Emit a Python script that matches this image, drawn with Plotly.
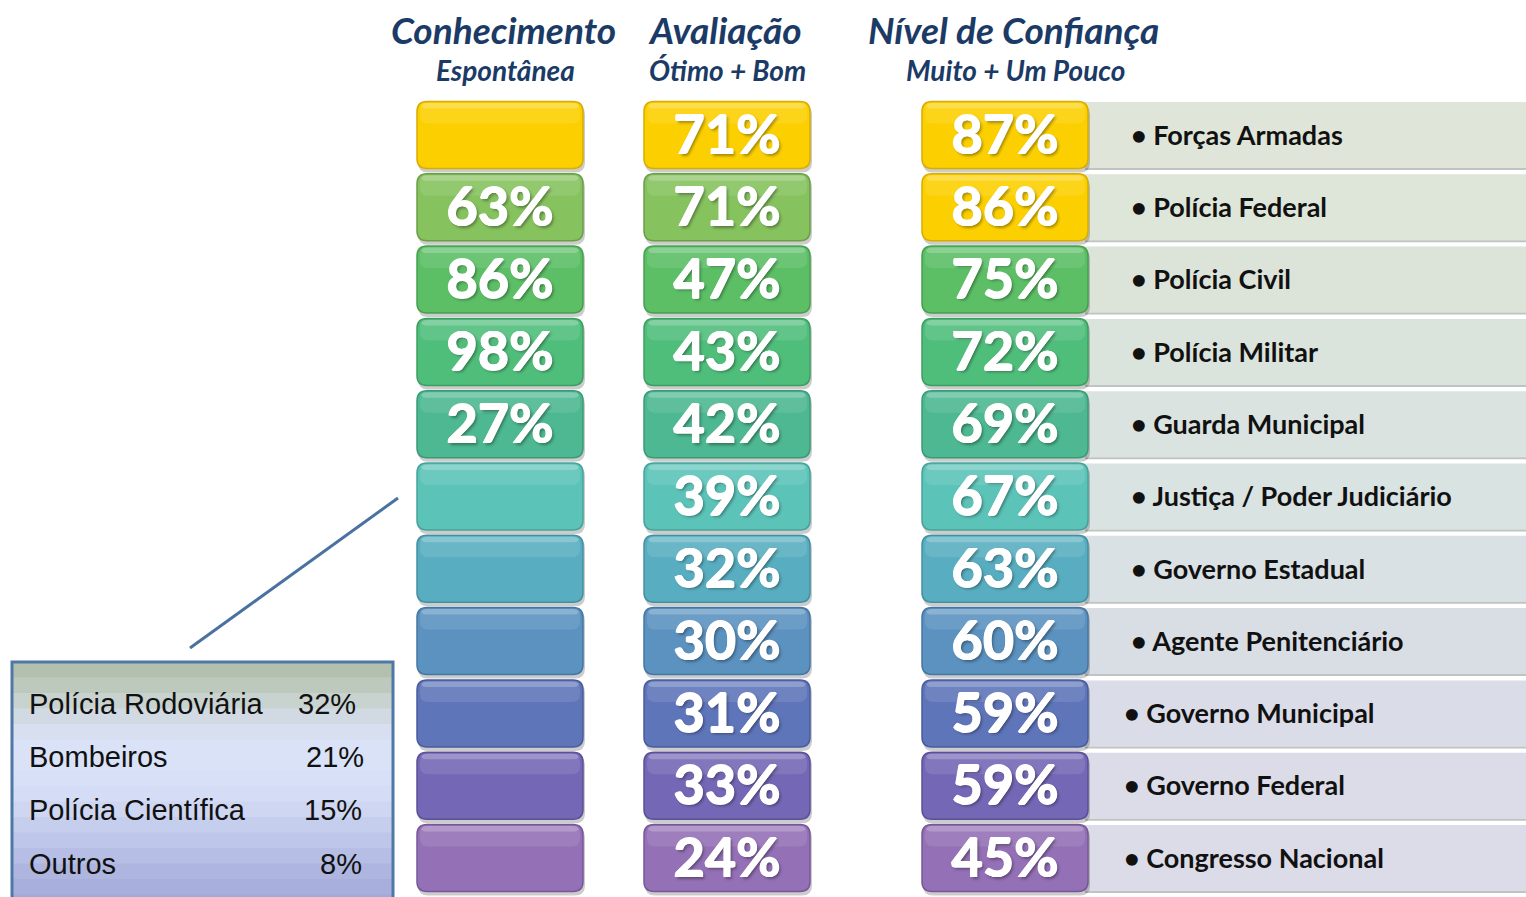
import plotly.graph_objects as go

# ---------------- data ----------------
orgs = ["Forças Armadas", "Polícia Federal", "Polícia Civil", "Polícia Militar",
        "Guarda Municipal", "Justiça / Poder Judiciário", "Governo Estadual",
        "Agente Penitenciário", "Governo Municipal", "Governo Federal", "Congresso Nacional"]
conhecimento = [None, 63, 86, 98, 27, None, None, None, None, None, None]
avaliacao = [71, 71, 47, 43, 42, 39, 32, 30, 31, 33, 24]
confianca = [87, 86, 75, 72, 69, 67, 63, 60, 59, 59, 45]

inset_labels = ["Polícia Rodoviária", "Bombeiros", "Polícia Científica", "Outros"]
inset_values = [32, 21, 15, 8]

col_titles = ["Conhecimento", "Avaliação", "Nível de Confiança"]
col_subtitles = ["Espontânea", "Ótimo + Bom", "Muito + Um Pouco"]

# ---------------- style ----------------
W, H = 1526, 897
ROW0, ROWSTEP = 135.0, 72.3          # pixel centre of first row, row pitch


def py(p):  # pixel y -> row units
    return (p - ROW0) / ROWSTEP


row_colors = ["#FCD000", "#86C25E", "#5CBF66", "#50BE7B", "#4DB892", "#5CC3B8",
              "#58AEC0", "#5C92C0", "#5F75BA", "#7467B5", "#9470B6"]
row_dark = ["#D8AC00", "#6A9E48", "#46A050", "#3C9E62", "#3A9A78", "#45A49A",
            "#4490A2", "#4676A2", "#4A5C9C", "#5C5098", "#765898"]
conf_colors = ["#FCD000", "#FCD000"] + row_colors[2:]
conf_dark = ["#D8AC00", "#D8AC00"] + row_dark[2:]
band_colors = ["#DFE5D9", "#DEE5D9", "#DCE4DA", "#DBE4DC", "#DAE3DF", "#D9E3E2",
               "#D9E1E4", "#D9DEE5", "#DADDE7", "#DBDCE8", "#DCDCE8"]
label_x = [1131] * 8 + [1124] * 3
inset_val_x = [358, 366, 364, 364]

col_x = [500, 727, 1005]
HALF_W = 83
HALF_H = 33.5 / ROWSTEP
RX, RY = 10, 10 / ROWSTEP


def rrect(x0, x1, y0, y1, rx=RX, ry=RY):
    return (f"M {x0+rx},{y0} L {x1-rx},{y0} Q {x1},{y0} {x1},{y0+ry} "
            f"L {x1},{y1-ry} Q {x1},{y1} {x1-rx},{y1} L {x0+rx},{y1} "
            f"Q {x0},{y1} {x0},{y1-ry} L {x0},{y0+ry} Q {x0},{y0} {x0+rx},{y0} Z")


shapes = []


def add_box(cx, row, fill, dark):
    x0, x1 = cx - HALF_W, cx + HALF_W
    y0, y1 = row - HALF_H, row + HALF_H
    shapes.append(dict(type="path", xref="x", yref="y",
                       path=rrect(x0 + 1, x1 + 2, y0 + 3 / ROWSTEP, y1 + 4 / ROWSTEP),
                       fillcolor="rgba(0,0,0,0.2)", line=dict(width=0), layer="below"))
    shapes.append(dict(type="path", xref="x", yref="y", path=rrect(x0, x1, y0, y1),
                       fillcolor=fill, line=dict(color=dark, width=1.5), layer="below"))
    shapes.append(dict(type="path", xref="x", yref="y",
                       path=rrect(x0 + 3, x1 - 3, y0 + 1.5 / ROWSTEP, y0 + 22 / ROWSTEP,
                                  rx=8, ry=8 / ROWSTEP),
                       fillcolor="rgba(255,255,255,0.10)", line=dict(width=0), layer="below"))
    shapes.append(dict(type="path", xref="x", yref="y",
                       path=rrect(x0 + 4, x1 - 4, y0 + 1.5 / ROWSTEP, y0 + 7 / ROWSTEP,
                                  rx=5, ry=5 / ROWSTEP),
                       fillcolor="rgba(255,255,255,0.22)", line=dict(width=0), layer="below"))


for i, org in enumerate(orgs):
    shapes.append(dict(type="rect", xref="x", yref="y", x0=1085, x1=W + 20,
                       y0=i - 33 / ROWSTEP, y1=i + 33 / ROWSTEP,
                       fillcolor=band_colors[i], line=dict(width=0), layer="below"))
    shapes.append(dict(type="line", xref="x", yref="y", x0=1085, x1=W + 20,
                       y0=i + 34 / ROWSTEP, y1=i + 34 / ROWSTEP,
                       line=dict(color="#BFC3C2", width=2), layer="below"))

for i in range(len(orgs)):
    add_box(col_x[0], i, row_colors[i], row_dark[i])
    add_box(col_x[1], i, row_colors[i], row_dark[i])
    add_box(col_x[2], i, conf_colors[i], conf_dark[i])

# inset box with gradient
inset_top, inset_bot = 662, 910
grad = ["#B3C0AE", "#BDC9BC", "#C8D2CE", "#D1DAE2", "#D7DFF0", "#DAE2F8", "#DAE2F8",
        "#D8E0F8", "#D4DCF6", "#CED6F2", "#C6CEEE", "#BEC6EA", "#B6BEE5", "#AEB6E0",
        "#A8AFDC", "#A2A9D8"]
n = len(grad)
for k, c in enumerate(grad):
    a = inset_top + (inset_bot - inset_top) * k / n
    b = inset_top + (inset_bot - inset_top) * (k + 1) / n
    shapes.append(dict(type="rect", xref="x", yref="y", x0=12, x1=393, y0=py(a), y1=py(b) + 0.01,
                       fillcolor=c, line=dict(width=0), layer="below"))
shapes.append(dict(type="rect", xref="x", yref="y", x0=12, x1=393, y0=py(inset_top), y1=py(inset_bot),
                   fillcolor="rgba(0,0,0,0)", line=dict(color="#4E79A7", width=3), layer="above"))
shapes.append(dict(type="line", xref="x", yref="y", x0=190, x1=398, y0=py(648), y1=py(498),
                   line=dict(color="#4A72A0", width=3)))

fig = go.Figure()

pct_shadow = ("0.7px 0 0 #fff, -0.7px 0 0 #fff, 0 0.7px 0 #fff, 0 -0.7px 0 #fff, "
              "2px 2px 3px rgba(0,0,0,0.35)")
for col, vals in zip(col_x, [conhecimento, avaliacao, confianca]):
    xs, ys, ts = [], [], []
    for i, v in enumerate(vals):
        if v is None:
            continue
        xs.append(col)
        ys.append(i + 5 / ROWSTEP)
        ts.append(f"{v}%")
    fig.add_trace(go.Scatter(x=xs, y=ys, text=ts, mode="text", textposition="middle center",
                             textfont=dict(family="Lato", size=54, color="white", weight="bold",
                                           shadow=pct_shadow),
                             hoverinfo="skip", showlegend=False))

fig.add_trace(go.Scatter(x=label_x, y=[i + 3 / ROWSTEP for i in range(len(orgs))],
                         text=["• " + o for o in orgs], mode="text", textposition="middle right",
                         textfont=dict(family="Lato", size=27, color="#111111", weight="bold"),
                         hoverinfo="skip", showlegend=False))

annotations = []
for cx, t, s in zip([503, 725, 1013], col_titles, col_subtitles):
    annotations.append(dict(x=cx, y=py(29), text=t, showarrow=False, xref="x", yref="y",
                            font=dict(family="Lato", size=37, color="#1B3A66",
                                      style="italic", weight="bold")))
    annotations.append(dict(x=cx + 2, y=py(70), text=s, showarrow=False, xref="x", yref="y",
                            font=dict(family="Lato", size=28, color="#1B3A66",
                                      style="italic", weight="bold")))

inset_y = [704, 757, 810, 864]
for lab, val, yy, vx in zip(inset_labels, inset_values, inset_y, inset_val_x):
    annotations.append(dict(x=27, y=py(yy), text=lab, showarrow=False, xref="x", yref="y",
                            xanchor="left", font=dict(family="Liberation Sans", size=29,
                                                      color="#111111")))
    annotations.append(dict(x=vx, y=py(yy), text=f"{val}%", showarrow=False, xref="x", yref="y",
                            xanchor="right", font=dict(family="Liberation Sans", size=29,
                                                       color="#111111")))

fig.update_layout(
    width=W, height=H, margin=dict(l=0, r=0, t=0, b=0),
    paper_bgcolor="white", plot_bgcolor="white",
    xaxis=dict(range=[0, W], visible=False, fixedrange=True),
    yaxis=dict(range=[py(H), py(0)], visible=False, fixedrange=True),
    shapes=shapes, annotations=annotations, showlegend=False,
)

fig.write_html("out.html", config={"displayModeBar": False},
               post_script="document.body.style.margin='0';document.body.style.overflow='hidden';")
